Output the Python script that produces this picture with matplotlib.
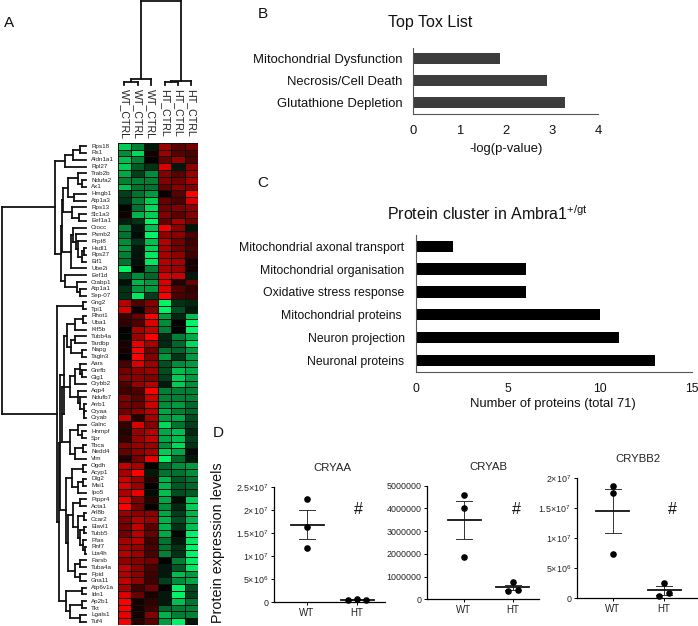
import matplotlib
matplotlib.use('Agg')
import matplotlib.pyplot as plt
from matplotlib.colors import LinearSegmentedColormap
import numpy as np

plt.rcParams['font.family'] = ['Liberation Sans', 'DejaVu Sans']
plt.rcParams['mathtext.default'] = 'regular'

W, H = 698, 626

# panel A
genes = ['Rps18', 'Rs1', 'Aldn1a1', 'Rpl27', 'Trab2b', 'Ndufa2', 'Ax1', 'Hmgb1', 'Atp1a3', 'Rps13', 'Slc1a3', 'Eef1a1',
         'Crocc', 'Psmb2', 'Prpf8', 'Hsdl1', 'Rps27', 'Eif1', 'Ube2i', 'Eef1d', 'Crabp1', 'Atp1a1', 'Sep-07',
         'Gng2', 'Tpi1', 'Rhot1', 'Uba1', 'Kif5b', 'Tubb4a', 'Tardbp', 'Napg', 'Tagln3', 'Aars', 'Gnrfb', 'Glg1',
         'Crybb2', 'Aqp4', 'Ndufb7', 'Arrb1', 'Cryaa', 'Cryab', 'Galnc', 'Hnrnpf', 'Spr', 'Tbca', 'Nedd4', 'Vim',
         'Ogdh', 'Acyp1', 'Dlg2', 'Msi1', 'Ipo5', 'Ptppr4', 'Acta1', 'Arl8b', 'Ccar2', 'Elavl1', 'Tubb5', 'Pfas',
         'Rnf7', 'Lta4h', 'Farsb', 'Tuba4a', 'Ppid', 'Gna11', 'Atp6v1a', 'Idn1', 'Ap2b1', 'Tkt', 'Lgals1', 'Tuf4']
samples = ['WT_CTRL', 'WT_CTRL', 'WT_CTRL', 'HT_CTRL', 'HT_CTRL', 'HT_CTRL']
expr = [
    [-.8, -.5, -.1, .6, .35, .45], [-.55, -.85, .08, .6, .35, .3], [-.75, -.5, .03, .4, .6, .3],
    [-.8, -.35, -.2, .85, -.1, .55], [-.65, -.25, -.55, .5, .35, .6], [-.5, -.5, -.5, .5, .45, .65],
    [-.75, -.45, -.45, .4, .55, .5], [-.25, -.45, -.6, .05, .35, 1], [-.2, -.5, -.8, .4, .3, .85],
    [-.03, -.45, -.85, .45, .5, .55], [.08, -.7, -.8, .5, .35, .5], [-.12, -.2, -.95, .4, .65, .45],
    [-.5, -.08, -.75, .95, .55, -.08], [-.45, -.05, -.95, .55, .55, .3], [-.55, -.2, -.75, .7, .45, .25],
    [-.6, -.1, -.8, .65, .45, .3], [-.5, -.08, -.9, .65, .55, .25], [-.45, -.07, -.9, .7, .65, .1],
    [-.95, -.02, -.5, .65, .6, .1], [-.3, -.55, -.4, .85, .8, -.1], [-.07, -.7, -.6, .85, .15, .4],
    [-.2, -.6, -.6, .85, .35, .2], [-.2, -.9, -.25, 1, .3, .25], [.7, .3, .5, -.95, -.2, -.15],
    [.85, .07, .5, -.95, -.3, -.1], [.25, .4, 1, -.6, -.15, -.75], [.2, .3, .85, -.55, .02, -.95],
    [.03, .65, .75, -.5, -.01, -.95], [-.03, .6, 1, -.15, -.5, -.65], [.12, .9, .65, -.15, -.4, -.85],
    [.1, 1, .45, -.45, -.4, -.6], [.02, 1, .5, -.6, -.2, -.6], [.3, .85, .6, -.3, -.55, -.6],
    [.45, .55, .6, -.3, -.75, -.65], [.5, .55, .5, -.25, -.8, -.6], [.3, .6, .7, -.1, -.8, -.55],
    [.25, .3, 1, -.5, -.5, -.5], [.5, .35, .8, -.5, -.5, -.5], [.45, .4, .8, -.55, -.6, -.4],
    [.45, .55, .7, -.65, -.5, -.4], [.75, .15, .65, -.6, -.65, -.3], [.2, .85, .5, -.85, -.45, -.25],
    [.15, .6, .7, -.65, -.75, -.15], [.2, .6, .75, -.65, -.75, -.25], [.5, .6, .6, -.55, -.85, -.2],
    [.4, .55, .65, -.8, -.65, -.05], [.12, .45, .9, -.95, -.4, -.08], [.75, .65, .03, -.4, -.55, -.6],
    [.65, 1, -.1, -.45, -.45, -.55], [.8, .6, .15, -.7, -.35, -.45], [.85, .6, .02, -.7, -.35, -.4],
    [.65, .9, -.05, -.75, -.3, -.35], [.9, .5, .15, -.65, -.05, -.8], [1, .45, .03, -.55, -.15, -.8],
    [.6, .55, .55, -.65, -.25, -.7], [.5, .7, .6, -.7, -.3, -.7], [.45, .75, .35, -.7, -.2, -.75],
    [.45, .7, .4, -.65, -.03, -.95], [.65, .7, .25, -.45, -.1, -.9], [.65, .6, .3, -.45, -.2, -.95],
    [.7, .6, .3, -.5, -.2, -.95], [.55, .5, .45, -.01, -.5, -.9], [.75, .55, .3, -.1, -.35, -.9],
    [.7, .55, .25, -.1, -.75, -.6], [.75, .55, .25, -.25, -.55, -.65], [.65, .25, .45, -.01, -.95, -.3],
    [.85, .4, .1, -.1, -.95, -.25], [1, .08, .2, -.1, -.75, -.45], [1, .08, .25, -.4, -.5, -.5],
    [.9, .08, .5, -.7, -.5, -.5], [.95, .15, .35, -.6, -.95, -.08],
]

# dendrograms: (merge height, child, child), L is the next leaf in row order
L = None
gene_tree = (2,
    (55,
        (65, (73, (80, L, L), L), L),
        (60.5,
            (62,
                (63,
                    (68, (78, L, (82, L, L)), (74, L, L)),
                    (72, L, (79, L, L))),
                (71, (73, L, (76, L, (78, L, (82, (84, L, L), L)))), L)),
            (65, L, (77, L, (80, L, L))))),
    (57,
        (83, L, L),
        (58.5,
            (60,
                (64,
                    (67,
                        (75, (83, L, L), L),
                        (71, (75, L, L), (82, L, L))),
                    (62,
                        (70,
                            (75, (80, L, (82, L, L)), L),
                            (78, L, (80, L, (84, L, (84, L, L))))),
                        (70, (78, L, (82, L, L)), (75, (83, L, L), L)))),
                (66,
                    (72, (83, L, L), (78, (83, L, L), L)),
                    (68,
                        (73, (80, L, L), (78, (84, L, L), (80, (84, L, L), (83, L, (85, L, L))))),
                        (75, (80, L, L), (80, L, L))))),
            (66,
                (82, L, L),
                (70, (82, L, L), (80, L, L))))))
sample_tree = (1, (79, (82, L, L), L), (80.5, (81.5, L, L), L))
gene_n = 71

# panel B
tox_names = ['Mitochondrial Dysfunction', 'Necrosis/Cell Death', 'Glutathione Depletion']
tox_vals = [1.87, 2.9, 3.29]
tox_ticks = [0, 1, 2, 3, 4]

# panel C
cluster_names = ['Mitochondrial axonal transport', 'Mitochondrial organisation', 'Oxidative stress response',
                 'Mitochondrial proteins ', 'Neuron projection', 'Neuronal proteins']
cluster_vals = [2, 6, 6, 10, 11, 13]
cluster_ticks = [0, 5, 10, 15]

# panel D
groups = ['WT', 'HT']
cryaa_wt = [2.24e7, 1.62e7, 1.18e7]
cryaa_ht = [0.04e7, 0.07e7, 0.05e7]
cryaa_mean = [1.68e7, 0.055e7]
cryaa_sem = [0.31e7, 0.01e7]
cryab_wt = [4.57e6, 4.0e6, 1.88e6]
cryab_ht = [3.6e5, 7.4e5, 4.2e5]
cryab_mean = [3.48e6, 5.2e5]
cryab_sem = [0.83e6, 1.2e5]
crybb2_wt = [1.87e7, 1.75e7, 0.74e7]
crybb2_ht = [0.04e7, 0.26e7, 0.08e7]
crybb2_mean = [1.45e7, 0.13e7]
crybb2_sem = [0.36e7, 0.07e7]
cryaa_ticks = [0, 5e6, 1e7, 1.5e7, 2e7, 2.5e7]
cryaa_labels = ['0', r'$5{\times}10^{6}$', r'$1{\times}10^{7}$', r'$1.5{\times}10^{7}$', r'$2{\times}10^{7}$', r'$2.5{\times}10^{7}$']
cryab_ticks = [0, 1000000, 2000000, 3000000, 4000000, 5000000]
cryab_labels = ['0', '1000000', '2000000', '3000000', '4000000', '5000000']
crybb2_ticks = [0, 5e6, 1e7, 1.5e7, 2e7]
crybb2_labels = ['0', r'$5{\times}10^{6}$', r'$1{\times}10^{7}$', r'$1.5{\times}10^{7}$', r'$2{\times}10^{7}$']


def px_axes(left, top, right, bottom):
    return fig.add_axes([left/W, 1-bottom/H, (right-left)/W, (bottom-top)/H])


def draw_tree(ax, node, leaf, flip=False, lw=1.3):
    def seg(h0, h1, p0, p1):
        if flip:
            ax.plot([p0, p1], [h0, h1], color='#111111', lw=lw, solid_capstyle='projecting')
        else:
            ax.plot([h0, h1], [p0, p1], color='#111111', lw=lw, solid_capstyle='projecting')

    def walk(n):
        if n is None:
            leaf[0] += 1
            return leaf[0]-0.5, leaf[1]
        h, a, b = n
        pa, ha = walk(a)
        pb, hb = walk(b)
        seg(h, ha, pa, pa)
        seg(h, hb, pb, pb)
        seg(h, h, pa, pb)
        return (pa+pb)/2, h
    walk(node)


fig = plt.figure(figsize=(W/100, H/100), dpi=100)
hm_left, hm_right, hm_top, hm_bottom = 117.7, 198, 142.8, 625

cmap = LinearSegmentedColormap.from_list('gbr', [(0, 1, 0.42), (0, 0, 0), (1, 0, 0)])
ax = px_axes(hm_left, hm_top, hm_right, hm_bottom)
ax.pcolormesh(np.array(expr), cmap=cmap, vmin=-1, vmax=1, edgecolors='#111111', linewidth=0.4)
ax.set_xlim(0, 6)
ax.set_ylim(len(expr), 0)
ax.axis('off')

ax = px_axes(0, hm_top, 88, hm_bottom)
draw_tree(ax, gene_tree, [0, 86])
ax.set_xlim(0, 88)
ax.set_ylim(gene_n, 0)
ax.axis('off')
for i, g in enumerate(genes):
    ax.text(91, i+0.5, g, fontsize=4.5, color='#222222', va='center', ha='left', clip_on=False)

ax = px_axes(hm_left, 0, hm_right, 88)
draw_tree(ax, sample_tree, [0, 85], flip=True)
ax.set_xlim(0, 6)
ax.set_ylim(88, 0)
ax.axis('off')
for i, s in enumerate(samples):
    ax.text(i+0.5, 89, s, fontsize=7.7, rotation=-90, color='#222222', va='top', ha='center', clip_on=False)


def hbars(ax, names, vals, ticks, color, height, fs):
    ax.barh(range(len(vals)), vals, height=height, color=color)
    ax.set_yticks(range(len(vals)), names, fontsize=fs, color='#111111')
    ax.set_xticks(ticks, [str(t) for t in ticks], fontsize=fs, color='#111111')
    ax.set_xlim(ticks[0], ticks[-1])
    ax.tick_params(length=0)
    ax.spines[['top', 'right']].set_visible(False)
    ax.spines[['left', 'bottom']].set_color('#555555')


ax = px_axes(413.3, 48, 598.3, 114.3)
hbars(ax, tox_names, tox_vals, tox_ticks, '#3d3d3d', 0.5, 9.4)
ax.set_ylim(2.52, -0.5)
ax.tick_params(axis='y', pad=8)
ax.tick_params(axis='x', pad=8)

ax = px_axes(415.7, 235, 692.3, 371.7)
hbars(ax, cluster_names, cluster_vals, cluster_ticks, 'black', 0.5, 8.8)
ax.set_ylim(5.5, -0.5)
ax.tick_params(axis='y', pad=8)
ax.tick_params(axis='x', pad=8)

fig.text(430/W, 1-23/H, 'Top Tox List', fontsize=11.5, ha='center', va='center', color='#111111')
fig.text(506/W, 1-149/H, '-log(p-value)', fontsize=9.4, ha='center', va='center', color='#111111')
fig.text(487/W, 1-214/H, r'Protein cluster in Ambra1$^{+/gt}$', fontsize=11.5, ha='center', va='center', color='#111111')
fig.text(553/W, 1-404/H, 'Number of proteins (total 71)', fontsize=9.4, ha='center', va='center', color='#111111')

for letter, x, y in [('A', 9, 23), ('B', 263, 14), ('C', 263, 183), ('D', 218, 433)]:
    fig.text(x/W, 1-y/H, letter, fontsize=11, ha='center', va='center', color='#111111')
fig.text(218/W, 1-543/H, 'Protein expression levels', fontsize=10.4, rotation=90, ha='center', va='center', color='#111111')


def scatter_panel(box, title, title_y, wt, ht, mean, sem, ticks, labels, x_wt, x_ht, hash_x, wt_dx, ht_dx):
    left, top, right, bottom = box
    ax = px_axes(left, top, right, bottom)
    # category axis scaled so that 0 and 1 land on the two group centres
    span = x_ht-x_wt
    ax.set_xlim((left-x_wt)/span, (right-x_wt)/span)
    ax.set_ylim(0, ticks[-1])
    half = 16.5/span
    cap = 8/span
    for i, (m, s) in enumerate(zip(mean, sem)):
        ax.plot([i-half, i+half], [m, m], color='#111111', lw=1.3, zorder=3, clip_on=False)
        ax.plot([i, i], [m-s, m+s], color='#333333', lw=0.7, zorder=2)
        for v in (m-s, m+s):
            ax.plot([i-cap, i+cap], [v, v], color='#333333', lw=0.7, zorder=2)
    ax.scatter([d/span for d in wt_dx], wt, s=14, color='black', zorder=4, clip_on=False)
    ax.scatter([1+d/span for d in ht_dx], ht, s=14, color='black', zorder=4, clip_on=False)
    ax.set_xticks([0, 1], groups, fontsize=7, color='#222222')
    ax.set_yticks(ticks, labels, fontsize=6.4, color='#222222')
    ax.tick_params(length=2.5, width=0.7, pad=1.5)
    ax.spines[['top', 'right']].set_visible(False)
    ax.spines[['left', 'bottom']].set_linewidth(0.9)
    fig.text((x_wt+x_ht)/2/W, 1-title_y/H, title, fontsize=8.2, ha='center', va='center', color='#222222')
    fig.text(hash_x/W, 1-510/H, '#', fontsize=11.5, ha='center', va='center', color='#111111')


scatter_panel((274, 486.7, 385, 602.3), 'CRYAA', 468, cryaa_wt, cryaa_ht, cryaa_mean, cryaa_sem,
              cryaa_ticks, cryaa_labels, 307, 357, 358.7, [0, 0, 0], [-9, 0, 9])
scatter_panel((427, 485.7, 539, 599.3), 'CRYAB', 467, cryab_wt, cryab_ht, cryab_mean, cryab_sem,
              cryab_ticks, cryab_labels, 464, 512.7, 516.7, [0, 0, 0], [-5, 0, 5])
scatter_panel((576.7, 477.7, 696.7, 598.3), 'CRYBB2', 459, crybb2_wt, crybb2_ht, crybb2_mean, crybb2_sem,
              crybb2_ticks, crybb2_labels, 612.7, 664, 672, [0, 0, 0], [-5, 0, 5])

fig.savefig('out.png', dpi=100)
